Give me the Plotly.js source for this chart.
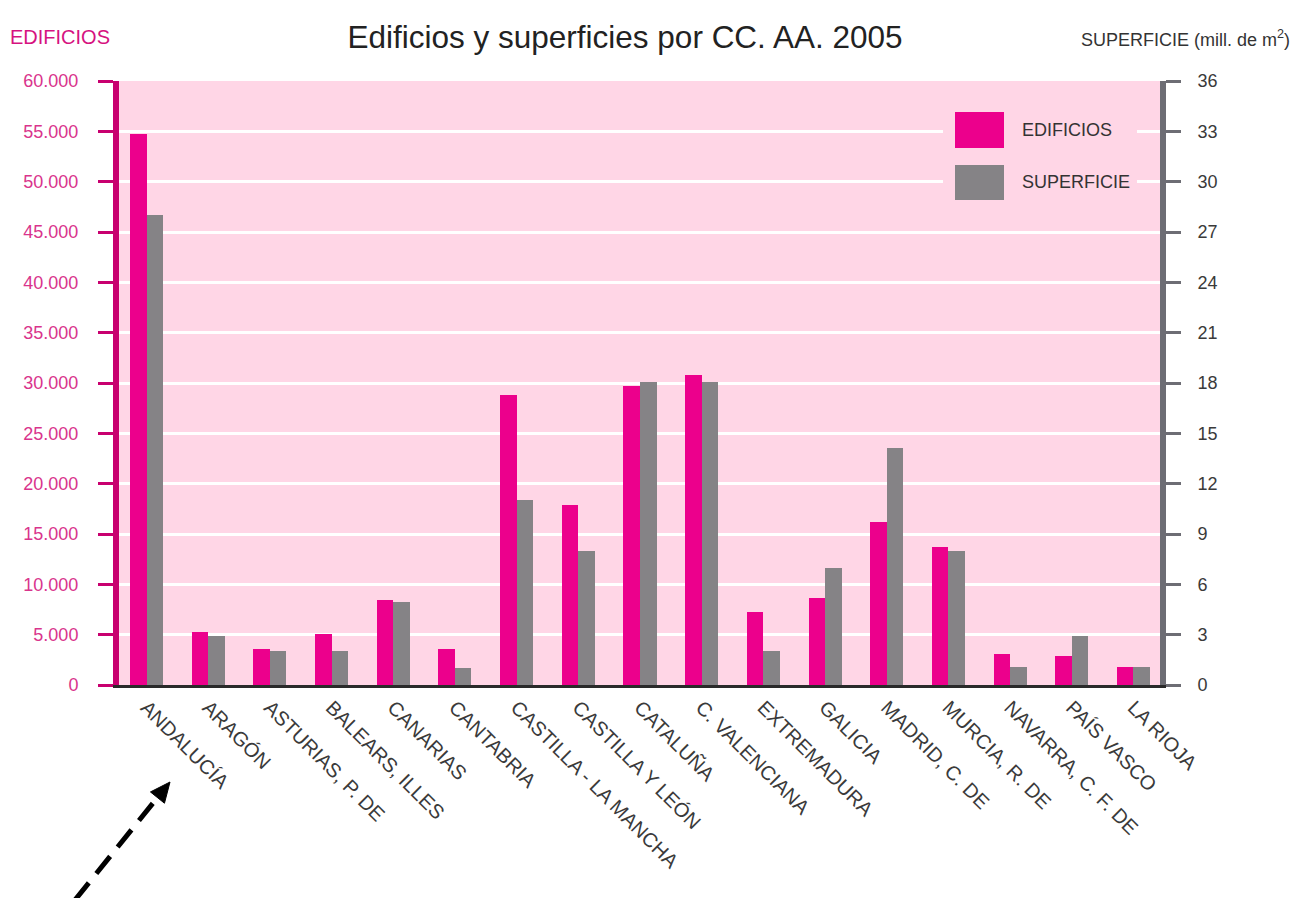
<!DOCTYPE html>
<html>
<head>
<meta charset="utf-8">
<script src="https://cdn.plot.ly/plotly-3.0.1.min.js"></script>
<style>html,body{margin:0;padding:0;background:#fff;}#chart{width:1296px;height:898px;}</style>
</head>
<body>
<div id="chart"></div>
<script>
// ---- data ----
const categories = ['ANDALUCÍA','ARAGÓN','ASTURIAS, P. DE','BALEARS, ILLES','CANARIAS','CANTABRIA',
  'CASTILLA - LA MANCHA','CASTILLA Y LEÓN','CATALUÑA','C. VALENCIANA','EXTREMADURA','GALICIA',
  'MADRID, C. DE','MURCIA, R. DE','NAVARRA, C. F. DE','PAÍS VASCO','LA RIOJA'];
const edificios = [54700,5300,3600,5100,8400,3600,28800,17900,29700,30800,7300,8650,16150,13750,3100,2900,1750];
const superficie = [28.0,2.95,2.05,2.05,4.95,1.0,11.0,8.0,18.05,18.05,2.0,7.0,14.1,8.0,1.05,2.95,1.05];
const seriesNames = ['EDIFICIOS','SUPERFICIE'];
const titleText = 'Edificios y superficies por CC. AA. 2005';
const leftAxisTitle = 'EDIFICIOS';
const rightAxisTitle = 'SUPERFICIE (mill. de m<sup>2</sup>)';

// ---- style ----
const PINK = '#ec008c', GREY = '#858386', BG = '#ffd6e6';
const FONT = 'Liberation Sans, Arial, sans-serif';
const W = 1296, H = 898;
const M = {l:119, r:136, t:81, b:213};
const PW = W - M.l - M.r, PH = H - M.t - M.b;
const px = x => (x - M.l) / PW;           // pixel -> paper x
const py = y => (H - M.b - y) / PH;       // pixel -> paper y

const traces = [
  {type:'bar', name:seriesNames[0], x:categories, y:edificios, yaxis:'y',
   marker:{color:PINK}, offset:-0.268, width:0.268, showlegend:false, hoverinfo:'x+y'},
  {type:'bar', name:seriesNames[1], x:categories, y:superficie, yaxis:'y2',
   marker:{color:GREY}, offset:0, width:0.268, showlegend:false, hoverinfo:'x+y'}
];

// arrow geometry (pixels)
const tail = [75, 900], tip = [170, 782];
const dx = tip[0]-tail[0], dy = tip[1]-tail[1], L = Math.hypot(dx,dy);
const ux = dx/L, uy = dy/L, hl = 20, hw = 9;
const bc = [tip[0]-ux*hl, tip[1]-uy*hl];
const b1 = [bc[0]+uy*hw, bc[1]-ux*hw], b2 = [bc[0]-uy*hw, bc[1]+ux*hw];

const shapes = [
  {type:'rect', xref:'paper', yref:'paper', x0:px(943), x1:px(1137), y0:py(100), y1:py(210),
   fillcolor:BG, line:{width:0}, layer:'above'},
  {type:'rect', xref:'paper', yref:'paper', x0:px(955), x1:px(1004), y0:py(112), y1:py(148),
   fillcolor:PINK, line:{width:0}, layer:'above'},
  {type:'rect', xref:'paper', yref:'paper', x0:px(955), x1:px(1004), y0:py(165), y1:py(200),
   fillcolor:GREY, line:{width:0}, layer:'above'},
  {type:'line', xref:'paper', yref:'paper', x0:px(tail[0]), y0:py(tail[1]), x1:px(bc[0]+ux*2), y1:py(bc[1]+uy*2),
   line:{color:'#000', width:5, dash:'22px,12px'}, layer:'above'},
  {type:'path', xref:'paper', yref:'paper',
   path:`M ${px(tip[0])} ${py(tip[1])} L ${px(b1[0])} ${py(b1[1])} L ${px(b2[0])} ${py(b2[1])} Z`,
   fillcolor:'#000', line:{color:'#000', width:1}, layer:'above'}
];

const annotations = [
  {text:leftAxisTitle, xref:'paper', yref:'paper', x:px(8), y:py(37), xanchor:'left', yanchor:'middle',
   showarrow:false, font:{family:FONT, size:20, color:'#d6127f'}},
  {text:rightAxisTitle, xref:'paper', yref:'paper', x:px(1292), y:py(38), xanchor:'right', yanchor:'middle',
   showarrow:false, font:{family:FONT, size:18, color:'#333'}},
  {text:seriesNames[0], xref:'paper', yref:'paper', x:px(1020), y:py(130), xanchor:'left', yanchor:'middle',
   showarrow:false, font:{family:FONT, size:18, color:'#333'}},
  {text:seriesNames[1], xref:'paper', yref:'paper', x:px(1020), y:py(182), xanchor:'left', yanchor:'middle',
   showarrow:false, font:{family:FONT, size:18, color:'#333'}}
];

const layout = {
  width:W, height:H, autosize:false,
  margin:M,
  paper_bgcolor:'#fff', plot_bgcolor:BG,
  separators:',.',
  font:{family:FONT, color:'#333'},
  title:{text:titleText, xref:'container', yref:'container', x:625/W, y:1-37/H,
         xanchor:'center', yanchor:'middle', font:{family:FONT, size:31.5, color:'#222'}},
  xaxis:{type:'category', range:[-0.446, 16.43], showline:true, linecolor:'#2a2a2a', linewidth:3,
         ticks:'', tickangle:45, tickfont:{family:FONT, size:20, color:'#3a3a3a'},
         showgrid:false, zeroline:false, fixedrange:true},
  yaxis:{range:[0,60000], dtick:5000, tick0:0, tickformat:',.0f', showline:true, linecolor:'#c8006f',
         linewidth:6, ticks:'outside', ticklen:15, tickwidth:3, tickcolor:'#c8006f',
         tickfont:{family:FONT, size:18, color:'#d9348c'}, ticklabelstandoff:16,
         showgrid:true, gridcolor:'#ffffff', gridwidth:3, zeroline:false, fixedrange:true},
  yaxis2:{range:[0,36], dtick:3, tick0:0, overlaying:'y', side:'right', showline:true, linecolor:'#6d6d74',
         linewidth:6, ticks:'outside', ticklen:15, tickwidth:3, tickcolor:'#6d6d74',
         tickfont:{family:FONT, size:18, color:'#3a3a3a'}, ticklabelstandoff:13,
         showgrid:false, zeroline:false, fixedrange:true},
  bargap:0, barmode:'overlay',
  shapes:shapes, annotations:annotations, showlegend:false
};

Plotly.newPlot('chart', traces, layout, {displayModeBar:false, staticPlot:true});
</script>
</body>
</html>
